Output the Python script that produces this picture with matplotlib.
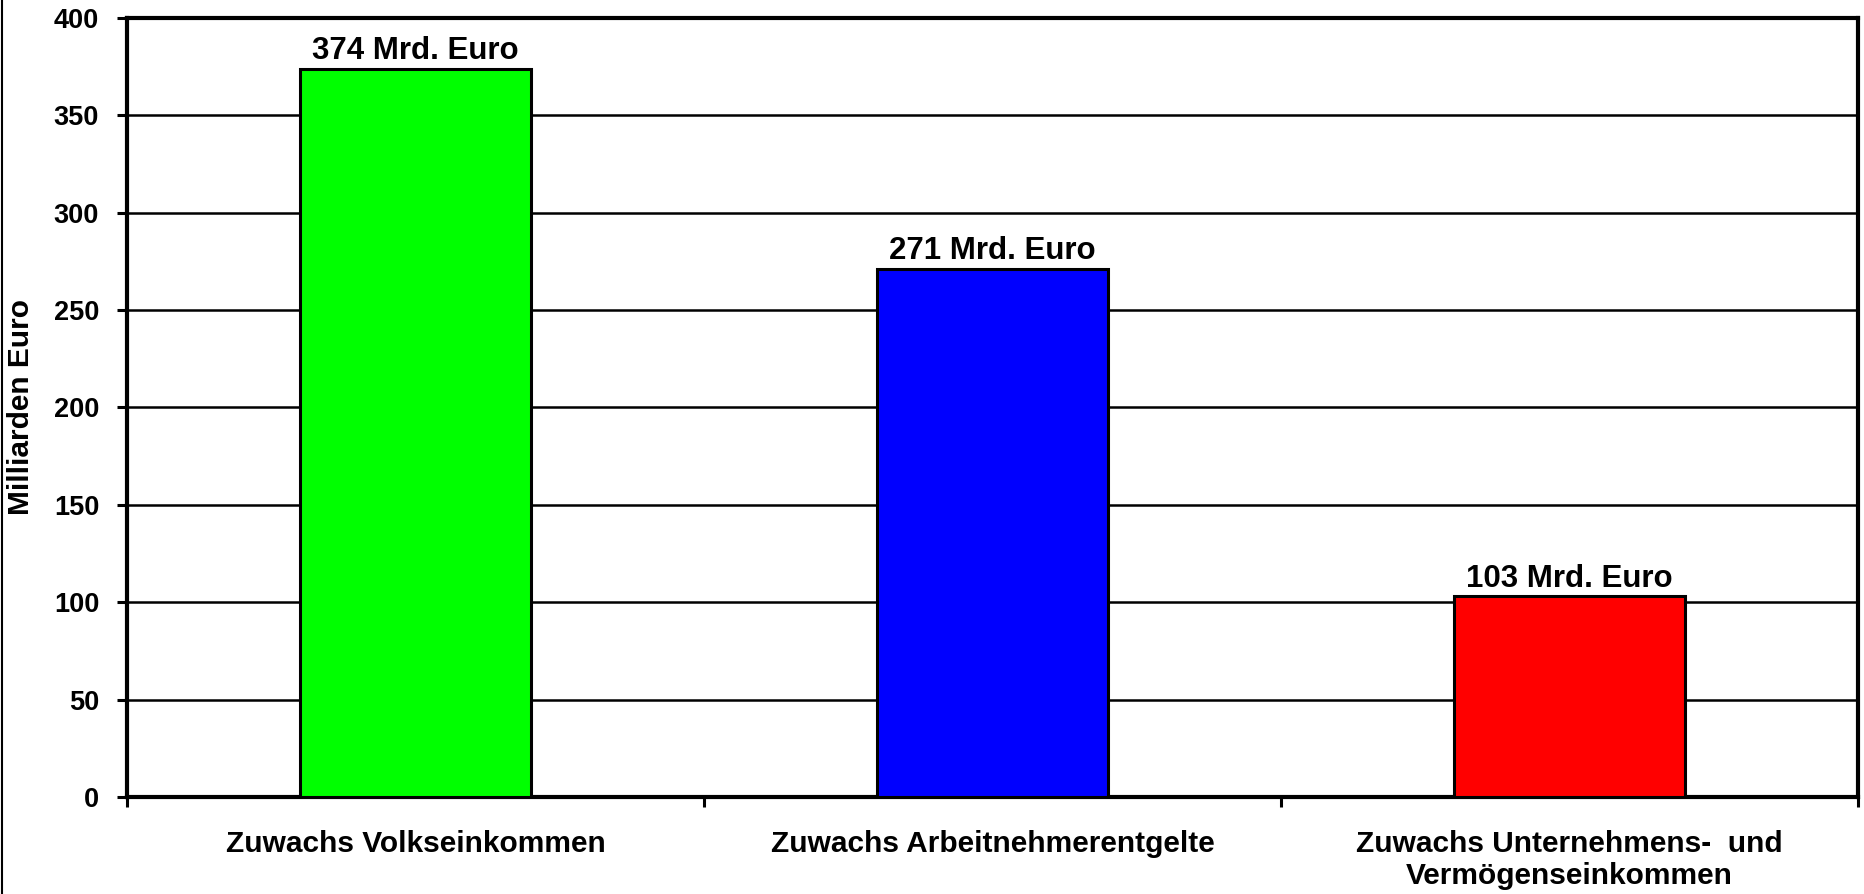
import numpy as np
import matplotlib.pyplot as plt
from matplotlib.lines import Line2D

plt.rcParams['font.family'] = ['Liberation Sans', 'DejaVu Sans']
plt.rcParams['font.weight'] = 'bold'

kategorien = ['Zuwachs Volkseinkommen', 'Zuwachs Arbeitnehmerentgelte',
              'Zuwachs Unternehmens-  und\nVermögenseinkommen']
werte = [374, 271, 103]
beschriftung = ['374 Mrd. Euro', '271 Mrd. Euro', '103 Mrd. Euro']
farben = ['#00FF00', '#0000FF', '#FF0000']
yticks = [0, 50, 100, 150, 200, 250, 300, 350, 400]

fig = plt.figure(figsize=(18.65, 8.94), dpi=100)
ax = fig.add_axes([0.0681, 0.1085, 0.9281, 0.8714])

x = np.arange(len(werte))
ax.bar(x, werte, width=0.4, color=farben, edgecolor='black', linewidth=2.2, zorder=3)

for xi, w, t in zip(x, werte, beschriftung):
    ax.annotate(t, (xi, w), xytext=(0, 2), textcoords='offset points',
                ha='center', va='bottom', fontsize=22.5, fontweight='bold')

ax.set_xlim(-0.5, 2.5)
ax.set_ylim(0, 400)
ax.set_yticks(yticks)
ax.yaxis.grid(True, color='black', linewidth=1.8, zorder=0)
ax.set_axisbelow(True)

# Striche an den Grenzen, Beschriftung in der Mitte
ax.set_xticks([-0.5, 0.5, 1.5, 2.5])
ax.set_xticklabels([])
ax.set_xticks(x, minor=True)
ax.set_xticklabels(kategorien, minor=True, fontsize=21.5, fontweight='bold',
                   va='top', linespacing=1.15)
ax.tick_params(axis='x', which='minor', length=0, pad=24)
ax.tick_params(axis='x', which='major', direction='out', length=7, width=2.2)
ax.tick_params(axis='y', direction='out', length=7, width=2.2, labelsize=19.5, pad=13)
for lbl in ax.get_yticklabels():
    lbl.set_fontweight('bold')

for s in ax.spines.values():
    s.set_linewidth(3)
    s.set_color('black')

ax.set_ylabel('Milliarden Euro', fontsize=21.5, fontweight='bold', va='center')
ax.yaxis.set_label_coords(-0.0615, 0.5)

fig.add_artist(Line2D([0.001, 0.001], [0, 1], color='black', linewidth=1.5,
                      transform=fig.transFigure))

fig.savefig('out.png', dpi=100)
